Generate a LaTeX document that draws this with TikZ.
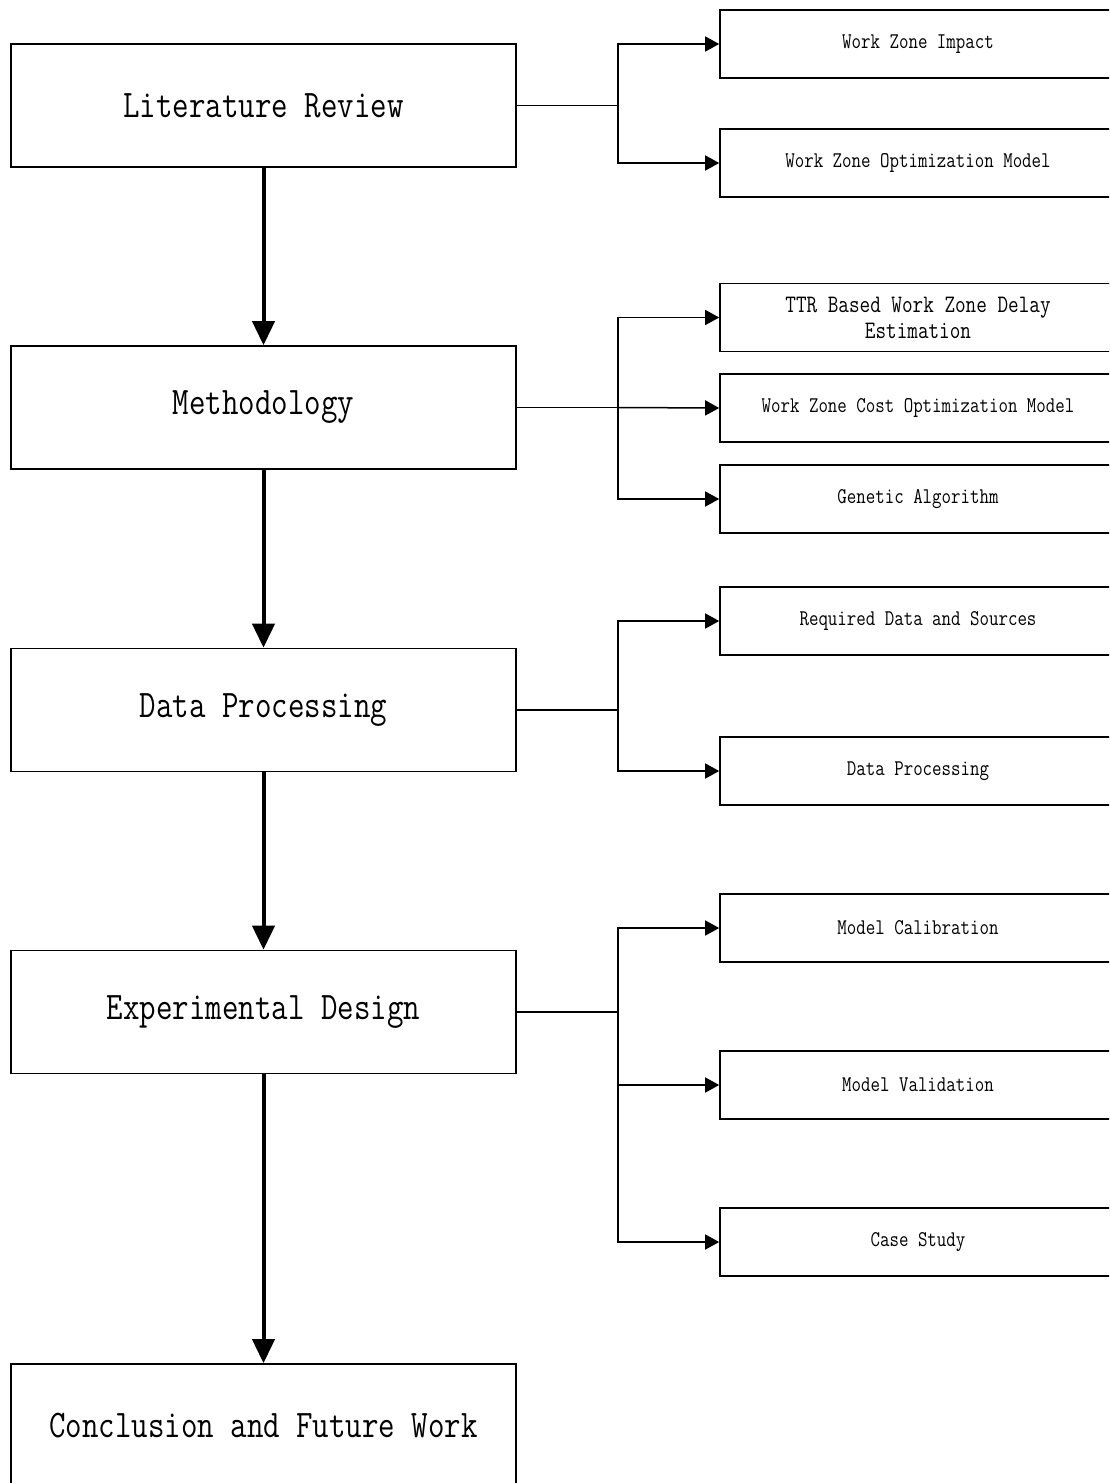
\documentclass[tikz,border=0pt]{standalone}
\usetikzlibrary{arrows.meta}
\newcommand{\st}[1]{\scalebox{1}[1.22]{#1}}
\tikzset{
  mainbox/.style={draw, line width=1.6pt, rectangle, minimum width=505pt, minimum height=123pt, inner sep=0pt, font=\fontsize{32}{38}\selectfont\ttfamily},
  subbox/.style={draw, line width=1.6pt, rectangle, minimum width=396pt, minimum height=68pt, inner sep=0pt, font=\fontsize{18.4}{22}\selectfont\ttfamily},
  bigarrow/.style={line width=4pt, -{Triangle[width=22pt,length=24pt]}},
  thinline/.style={line width=1.5pt},
  thinarrow/.style={line width=1.5pt, -{Triangle[width=15pt,length=14pt]}}
}
\begin{document}
\begin{tikzpicture}[x=1pt,y=-1pt]
\useasboundingbox (0,0) rectangle (1109,1483);
\clip (0,0) rectangle (1109,1483);
% main column
\node[mainbox] (lr) at (263.5,105.5) {\st{Literature Review}};
\node[mainbox] (me) at (263.5,407.5) {\st{Methodology}};
\node[mainbox] (dp) at (263.5,710) {\st{Data Processing}};
\node[mainbox] (ed) at (263.5,1012) {\st{Experimental Design}};
\node[mainbox] (cf) at (263.5,1425.5) {\st{Conclusion and Future Work}};
\draw[bigarrow] (lr.south) -- (me.north);
\draw[bigarrow] (me.south) -- (dp.north);
\draw[bigarrow] (dp.south) -- (ed.north);
\draw[bigarrow] (ed.south) -- (cf.north);
% sub boxes
\node[subbox] (wzi) at (918,44) {\st{Work Zone Impact}};
\node[subbox] (wzo) at (918,163) {\st{Work Zone Optimization Model}};
\node[subbox, align=center, font=\fontsize{20.6}{26}\selectfont\ttfamily] (ttr) at (918,317.5) {\st{TTR Based Work Zone Delay}\\\st{Estimation}};
\node[subbox] (wzc) at (918,408) {\st{Work Zone Cost Optimization Model}};
\node[subbox] (ga) at (918,499) {\st{Genetic Algorithm}};
\node[subbox] (rd) at (918,621) {\st{Required Data and Sources}};
\node[subbox] (sdp) at (918,771) {\st{Data Processing}};
\node[subbox] (mc) at (918,928) {\st{Model Calibration}};
\node[subbox] (mv) at (918,1085) {\st{Model Validation}};
\node[subbox] (cs) at (918,1242) {\st{Case Study}};
% junctions
\coordinate (j1) at (618,105.5);
\coordinate (j2) at (618,407.5);
\coordinate (j3) at (618,710);
\coordinate (j4) at (618,1012);
\draw[thinline] (lr.east) -- (j1);
\draw[thinarrow] (j1) |- (wzi.west);
\draw[thinarrow] (j1) |- (wzo.west);
\draw[thinline] (me.east) -- (j2);
\draw[thinarrow] (j2) |- (ttr.west);
\draw[thinarrow] (j2) -- (wzc.west);
\draw[thinarrow] (j2) |- (ga.west);
\draw[thinline] (dp.east) -- (j3);
\draw[thinarrow] (j3) |- (rd.west);
\draw[thinarrow] (j3) |- (sdp.west);
\draw[thinline] (ed.east) -- (j4);
\draw[thinarrow] (j4) |- (mc.west);
\draw[thinarrow] (j4) |- (mv.west);
\draw[thinarrow] (j4) |- (cs.west);
\end{tikzpicture}
\end{document}
